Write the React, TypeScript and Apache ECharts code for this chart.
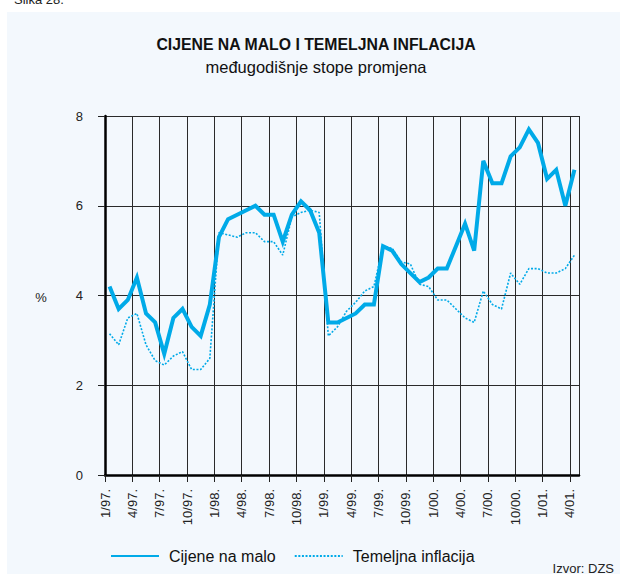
import React, { useEffect, useRef } from "react";
import * as echarts from "echarts";

const months: string[] = [
  "1/97","2/97","3/97","4/97","5/97","6/97","7/97","8/97","9/97","10/97","11/97","12/97",
  "1/98","2/98","3/98","4/98","5/98","6/98","7/98","8/98","9/98","10/98","11/98","12/98",
  "1/99","2/99","3/99","4/99","5/99","6/99","7/99","8/99","9/99","10/99","11/99","12/99",
  "1/00","2/00","3/00","4/00","5/00","6/00","7/00","8/00","9/00","10/00","11/00","12/00",
  "1/01","2/01","3/01","4/01",
];

const tickLabels: string[] = [
  "1/97.","4/97.","7/97.","10/97.","1/98.","4/98.","7/98.","10/98.","1/99.",
  "4/99.","7/99.","10/99.","1/00.","4/00.","7/00.","10/00.","1/01.","4/01.",
];

const cijeneNaMalo: number[] = [
  4.2, 3.7, 3.9, 4.4, 3.6, 3.4, 2.7, 3.5, 3.7, 3.3, 3.1, 3.8,
  5.3, 5.7, 5.8, 5.9, 6.0, 5.8, 5.8, 5.2, 5.8, 6.1, 5.9, 5.4,
  3.4, 3.4, 3.5, 3.6, 3.8, 3.8, 5.1, 5.0, 4.7, 4.5, 4.3, 4.4,
  4.6, 4.6, 5.1, 5.6, 5.0, 7.0, 6.5, 6.5, 7.1, 7.3, 7.7, 7.4,
  6.6, 6.8, 6.0, 6.8,
];

const temeljnaInflacija: number[] = [
  3.15, 2.9, 3.5, 3.6, 2.9, 2.55, 2.45, 2.65, 2.75, 2.35, 2.35, 2.6,
  5.4, 5.35, 5.3, 5.4, 5.4, 5.2, 5.2, 4.9, 5.75, 5.85, 5.9, 5.85,
  3.1, 3.3, 3.65, 3.85, 4.1, 4.2, 5.1, 5.05, 4.75, 4.7, 4.25, 4.2,
  3.9, 3.9, 3.7, 3.5, 3.4, 4.1, 3.8, 3.7, 4.5, 4.25, 4.6, 4.6,
  4.5, 4.5, 4.6, 4.9,
];

const yTicks: number[] = [0, 2, 4, 6, 8];

const FONT = "'Liberation Sans', Arial, sans-serif";
const BLUE = "#00aae8";

export default function App() {
  const ref = useRef<HTMLDivElement>(null);

  useEffect(() => {
    if (!ref.current) return;
    const chart = echarts.init(ref.current, undefined, { renderer: "svg" });
    const toPoints = (arr: number[]) => arr.map((v, i) => [i + 0.5, v]);
    chart.setOption({
      animation: false,
      backgroundColor: "#ffffff",
      textStyle: { fontFamily: FONT },
      graphic: [
        {
          type: "rect",
          z: -10,
          silent: true,
          shape: { x: 7, y: 12, width: 620, height: 580 },
          style: { fill: "#f3f8fd" },
        },
        {
          type: "text",
          x: 14,
          y: 6,
          style: { text: "Slika 28.", font: `13px ${FONT}`, fill: "#222", verticalAlign: "bottom" },
        },
        {
          type: "text",
          x: 316,
          y: 44,
          style: {
            text: "CIJENE NA MALO I TEMELJNA INFLACIJA",
            font: `bold 15.8px ${FONT}`,
            fill: "#111",
            align: "center",
            verticalAlign: "middle",
          },
        },
        {
          type: "text",
          x: 316,
          y: 67,
          style: {
            text: "međugodišnje stope promjena",
            font: `16.5px ${FONT}`,
            fill: "#111",
            align: "center",
            verticalAlign: "middle",
          },
        },
        {
          type: "text",
          x: 41,
          y: 297,
          style: {
            text: "%",
            font: `13px ${FONT}`,
            fill: "#222",
            align: "center",
            verticalAlign: "middle",
          },
        },
        {
          type: "text",
          x: 614,
          y: 568,
          style: {
            text: "Izvor: DZS",
            font: `13px ${FONT}`,
            fill: "#222",
            align: "right",
            verticalAlign: "middle",
          },
        },
      ],
      legend: {
        left: 105,
        top: 543,
        itemWidth: 48,
        itemHeight: 16,
        itemGap: 18,
        itemStyle: { opacity: 0 },
        textStyle: { fontSize: 16, color: "#111", fontFamily: FONT, padding: [0, 0, 0, 5] },
        data: ["Cijene na malo", "Temeljna inflacija"],
      },
      grid: { left: 105, right: 41, top: 116, bottom: 99, containLabel: false },
      xAxis: {
        type: "value",
        min: 0,
        max: months.length,
        interval: 3,
        axisLine: { show: true, onZero: false, lineStyle: { color: "#000", width: 2.5 } },
        axisTick: { show: true, length: 7, lineStyle: { color: "#222", width: 1 } },
        splitLine: { show: true, lineStyle: { color: "#2a2a2a", width: 1 } },
        axisLabel: {
          rotate: 90,
          margin: 14,
          fontSize: 13,
          color: "#222",
          fontFamily: FONT,
          showMaxLabel: false,
          formatter: (v: number) => (v % 3 === 0 && v / 3 < tickLabels.length ? tickLabels[v / 3] : ""),
        },
      },
      yAxis: {
        type: "value",
        min: yTicks[0],
        max: yTicks[yTicks.length - 1],
        interval: 2,
        axisLine: { show: true, lineStyle: { color: "#000", width: 2.5 } },
        axisTick: { show: true, length: 7, lineStyle: { color: "#222", width: 1 } },
        splitLine: { show: true, lineStyle: { color: "#2a2a2a", width: 1 } },
        axisLabel: { margin: 22, fontSize: 13, color: "#222", fontFamily: FONT },
      },
      series: [
        {
          name: "Cijene na malo",
          type: "line",
          data: toPoints(cijeneNaMalo),
          showSymbol: false,
          symbol: "none",
          lineStyle: { color: BLUE, width: 4, join: "miter" },
          itemStyle: { color: BLUE },
          z: 3,
        },
        {
          name: "Temeljna inflacija",
          type: "line",
          data: toPoints(temeljnaInflacija),
          showSymbol: false,
          symbol: "none",
          lineStyle: { color: BLUE, width: 1.6, type: [2, 1.6] },
          itemStyle: { color: BLUE },
          z: 2,
        },
      ],
    });
    return () => chart.dispose();
  }, []);

  return (
    <div
      ref={ref}
      style={{ position: "absolute", left: 0, top: 0, width: 620, height: 574 }}
    />
  );
}
